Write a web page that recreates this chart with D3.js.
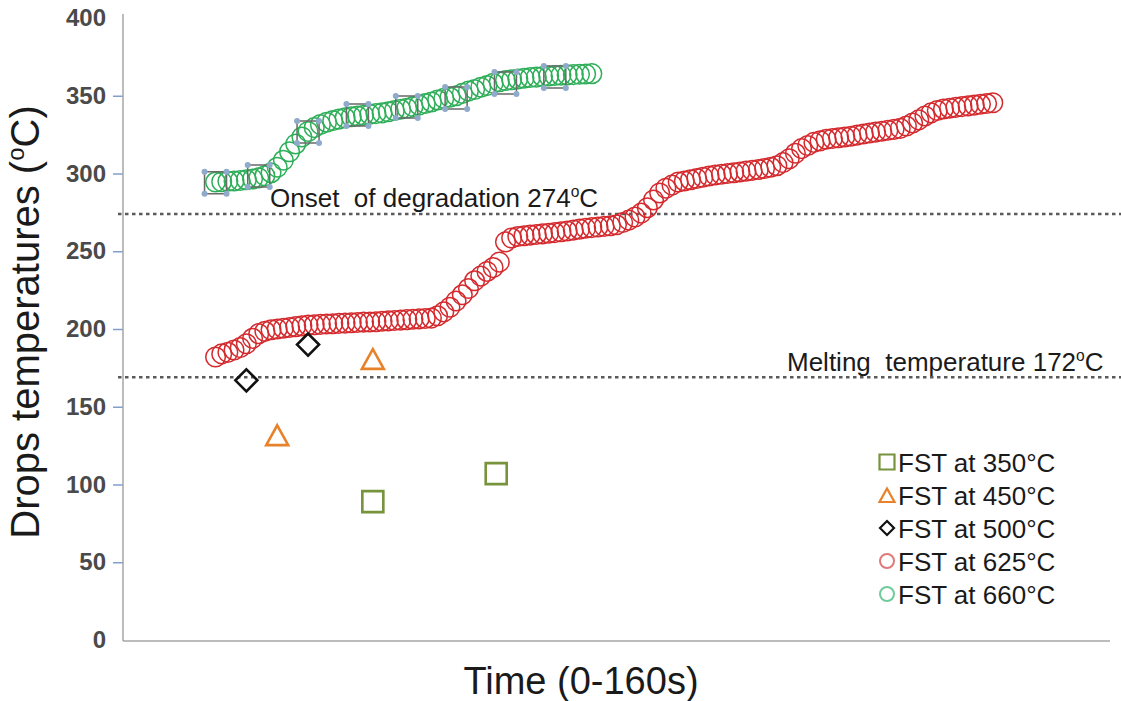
<!DOCTYPE html>
<html>
<head>
<meta charset="utf-8">
<script src="https://cdn.jsdelivr.net/npm/d3@7"></script>
<style>
body { margin: 0; background: #fff; }
text { font-family: "Liberation Sans", Arial, sans-serif; }
</style>
</head>
<body>
<div id="chart"></div>
<script>
// y axis ticks
var yTicks = [0, 50, 100, 150, 200, 250, 300, 350, 400];

// FST at 625°C, one reading per second starting at 15 s
var start625 = 15;
var values625 = [
	182, 184, 185, 186.5, 188, 190.5, 194, 197, 198.5, 199.5,
	200, 200.5, 201, 201.5, 202, 202.5, 202.7, 203, 203.2, 203.4,
	203.6, 203.8, 204, 204.2, 204.4, 204.5, 204.7, 205, 205.2, 205.5,
	205.7, 206, 206.3, 206.5, 206.8, 207, 208.5, 211, 214, 218,
	222, 226, 231, 234, 237, 239.5, 243, 256, 258.5, 259.5,
	260, 260.4, 260.8, 261.2, 261.6, 262, 262.5, 263, 263.6, 264.2,
	264.8, 265.2, 265.6, 266, 266.4, 267, 268.5, 270, 272, 274.5,
	278, 283, 287.5, 290.5, 292.5, 294.5, 295.2, 296, 296.8, 297.6,
	298.4, 299, 299.5, 300, 300.5, 301, 301.5, 302, 302.6, 303.2,
	304, 305, 307, 309.5, 313, 316, 318, 320, 321, 322,
	322.5, 323, 323.5, 324, 324.7, 325.4, 326, 326.6, 327.2, 327.8,
	328.4, 329, 330.5, 332.5, 334.5, 337, 339, 340.5, 341.5, 342,
	342.5, 343, 343.5, 344, 344.5, 345, 345.5
];

// FST at 660°C, one reading per second starting at 15 s
var start660 = 15;
var values660 = [
	294.5, 294.7, 295, 295.2, 295.5, 296, 296.5, 297.2, 298.5, 300.5,
	304, 308.5, 314, 319, 323.5, 327, 329.5, 331.5, 333, 334,
	335, 335.8, 336.5, 337, 337.5, 338, 338.5, 339, 339.7, 340.5,
	341.3, 342, 343, 344, 345, 346, 347.3, 348.3, 349, 350,
	351.5, 353, 354, 355.5, 356.5, 358, 359, 359.8, 360.3, 360.8,
	361.3, 361.7, 362, 362.4, 362.7, 363, 363.2, 363.4, 363.6, 363.8,
	364, 364.2
];

// square markers sitting over the 660°C series
var boxTimes660 = [15, 22, 30, 38, 46, 54, 62, 70];
var boxValues660 = [294, 298.4, 326.7, 337.6, 342.8, 348.6, 358.2, 362.1];

// single drops
var times350 = [40.5, 60.5];
var values350 = [89, 107];
var times450 = [25, 40.5];
var values450 = [131, 180];
var times500 = [20, 30];
var values500 = [167, 190];

// reference lines
var onsetValue = 274;
var meltValue = 169;

var legendLabels = ['FST at 350°C', 'FST at 450°C', 'FST at 500°C', 'FST at 625°C', 'FST at 660°C'];
var legendShapes = ['square', 'triangle', 'diamond', 'circle', 'circle'];
var legendColors = ['#77933c', '#e8822a', '#111111', '#e07a7a', '#6fcb9c'];

var width = 1121, height = 701;

var svg = d3.select('#chart').append('svg')
	.attr('width', width)
	.attr('height', height);

var x = d3.scaleLinear().domain([0, 160]).range([123, 1110]);
var y = d3.scaleLinear().domain([0, 400]).range([640, 18]);

function shapePath(shape, cx, cy, s) {
	var h = s / 2;
	if (shape == 'square') return 'M' + (cx - h) + ',' + (cy - h) + 'h' + s + 'v' + s + 'h' + (-s) + 'Z';
	if (shape == 'diamond') return 'M' + cx + ',' + (cy - h) + 'L' + (cx + h) + ',' + cy + 'L' + cx + ',' + (cy + h) + 'L' + (cx - h) + ',' + cy + 'Z';
	if (shape == 'triangle') return 'M' + cx + ',' + (cy - h) + 'L' + (cx + h) + ',' + (cy + h * 0.8) + 'L' + (cx - h) + ',' + (cy + h * 0.8) + 'Z';
	return '';
}

// y axis
var yAxis = svg.append('g')
	.attr('transform', 'translate(123,0)')
	.call(d3.axisLeft(y).tickValues(yTicks).tickSize(10).tickPadding(7));
yAxis.select('.domain').remove();
yAxis.selectAll('.tick line')
	.attr('stroke', '#7f9fcf')
	.attr('stroke-width', 1.5)
	.attr('opacity', function(d) { return (d == 0 || d == 400) ? 0 : 1; });
yAxis.selectAll('.tick text')
	.attr('font-size', 24)
	.attr('font-weight', 'bold')
	.attr('fill', '#4a4a4a')
	.style('font-family', '"Liberation Sans", Arial, sans-serif');

// axis lines
svg.append('line')
	.attr('x1', 123).attr('x2', 123)
	.attr('y1', 14).attr('y2', 641)
	.attr('stroke', '#a6a6a6').attr('stroke-width', 1.5);
svg.append('line')
	.attr('x1', 123).attr('x2', 1110)
	.attr('y1', 641).attr('y2', 641)
	.attr('stroke', '#a6a6a6').attr('stroke-width', 1.5);

// dashed reference lines
[onsetValue, meltValue].forEach(function(v) {
	svg.append('line')
		.attr('x1', 118).attr('x2', width)
		.attr('y1', y(v)).attr('y2', y(v))
		.attr('stroke', '#5a5a5a')
		.attr('stroke-width', 2.4)
		.attr('stroke-dasharray', '3.5,3.5');
});

// annotation texts
function degreeText(tx, ty, before, after, size) {
	var t = svg.append('text')
		.attr('x', tx).attr('y', ty)
		.attr('font-size', size)
		.attr('fill', '#1a1a1a')
		.style('white-space', 'pre');
	t.append('tspan').text(before);
	t.append('tspan').attr('dy', -size * 0.38).attr('font-size', size * 0.6).text('o');
	t.append('tspan').attr('dy', size * 0.38).text(after);
	return t;
}
degreeText(270, 207, 'Onset  of degradation 274', 'C', 26);
degreeText(787, 371, 'Melting  temperature 172', 'C', 26);

// FST at 625°C
svg.append('g').selectAll('circle').data(values625).enter().append('circle')
	.attr('cx', function(d, i) { return x(start625 + i); })
	.attr('cy', function(d) { return y(d); })
	.attr('r', 9.8)
	.attr('fill', 'none')
	.attr('stroke', '#d42a2e')
	.attr('stroke-width', 1.5);

// FST at 660°C
svg.append('g').selectAll('circle').data(values660).enter().append('circle')
	.attr('cx', function(d, i) { return x(start660 + i); })
	.attr('cy', function(d) { return y(d); })
	.attr('r', 9.8)
	.attr('fill', 'none')
	.attr('stroke', '#2eae58')
	.attr('stroke-width', 1.5);

// grey boxes with blue corner dots
var boxes = svg.append('g').selectAll('g').data(boxValues660).enter().append('g');
boxes.append('path')
	.attr('d', function(d, i) { return shapePath('square', x(boxTimes660[i]), y(d), 22); })
	.attr('fill', 'none')
	.attr('stroke', '#6a6a6a')
	.attr('stroke-width', 1.5);
[[-11, -11], [11, -11], [-11, 11], [11, 11]].forEach(function(c) {
	boxes.append('circle')
		.attr('cx', function(d, i) { return x(boxTimes660[i]) + c[0]; })
		.attr('cy', function(d) { return y(d) + c[1]; })
		.attr('r', 3)
		.attr('fill', '#8faacb');
});

// single drop markers
function drawPoints(times, values, shape, color, size) {
	svg.append('g').selectAll('path').data(values).enter().append('path')
		.attr('d', function(d, i) { return shapePath(shape, x(times[i]), y(d), size); })
		.attr('fill', 'none')
		.attr('stroke', color)
		.attr('stroke-width', 2.6)
		.attr('stroke-linejoin', 'miter');
}
drawPoints(times350, values350, 'square', '#77933c', 21);
drawPoints(times450, values450, 'triangle', '#e8822a', 22);
drawPoints(times500, values500, 'diamond', '#111111', 22);

// legend
var legend = svg.append('g').selectAll('g').data(legendLabels).enter().append('g')
	.attr('transform', function(d, i) { return 'translate(887,' + (462 + i * 33) + ')'; });
legend.each(function(d, i) {
	var g = d3.select(this);
	if (legendShapes[i] == 'circle') {
		g.append('circle').attr('r', 7).attr('fill', 'none')
			.attr('stroke', legendColors[i]).attr('stroke-width', 2);
	} else {
		g.append('path')
			.attr('d', shapePath(legendShapes[i], 0, legendShapes[i] == 'triangle' ? 1 : 0, legendShapes[i] == 'diamond' ? 14 : 15))
			.attr('fill', 'none')
			.attr('stroke', legendColors[i])
			.attr('stroke-width', 2.2);
	}
	g.append('text')
		.attr('x', 11)
		.attr('y', 9.5)
		.attr('font-size', 26)
		.attr('fill', '#1a1a1a')
		.text(d);
});

// axis titles
var yTitle = svg.append('text')
	.attr('transform', 'translate(39,322) rotate(-90)')
	.attr('text-anchor', 'middle')
	.attr('font-size', 40)
	.attr('fill', '#1a1a1a');
yTitle.append('tspan').text('Drops temperatures (');
yTitle.append('tspan').attr('dy', -15).attr('font-size', 24).text('o');
yTitle.append('tspan').attr('dy', 15).text('C)');

svg.append('text')
	.attr('x', 581)
	.attr('y', 694)
	.attr('text-anchor', 'middle')
	.attr('font-size', 38)
	.attr('fill', '#1a1a1a')
	.text('Time (0-160s)');
</script>
</body>
</html>
